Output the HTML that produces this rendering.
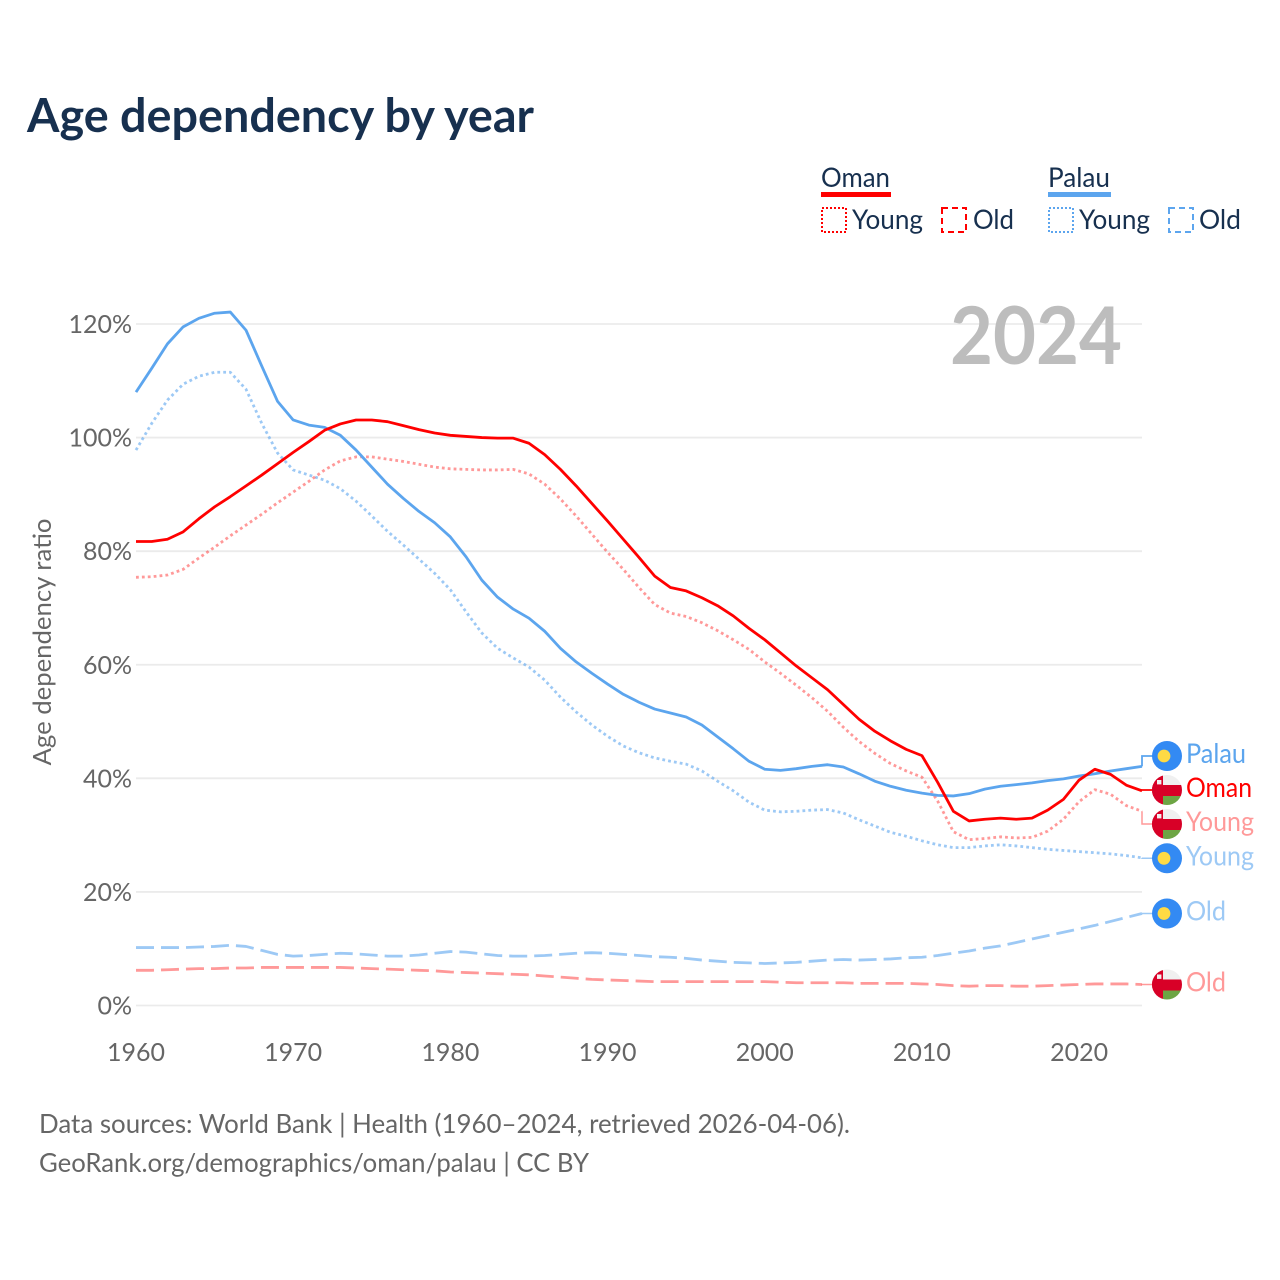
<!DOCTYPE html>
<html lang="en">
<head>
<meta charset="utf-8">
<title>Age dependency by year</title>
<style>
html,body{margin:0;padding:0;background:#fff;}
svg{display:block;}
text{font-family:"Lato","Carlito","Liberation Sans",sans-serif;}
</style>
</head>
<body>
<svg id="chart" xmlns="http://www.w3.org/2000/svg" width="1280" height="1280" viewBox="0 0 1280 1280">
<defs>
<clipPath id="clip-flag"><circle cx="15" cy="15" r="15"/></clipPath>
<g id="flag-palau"><circle cx="15" cy="15" r="15" fill="#338af3"/><circle cx="12" cy="15" r="6.4" fill="#ffda44"/></g>
<g id="flag-oman" clip-path="url(#clip-flag)">
<rect x="0" y="0" width="30" height="30" fill="#f0f0f0"/>
<rect x="0" y="10" width="30" height="11" fill="#d80027"/>
<rect x="0" y="0" width="11" height="30" fill="#d80027"/>
<rect x="11" y="21" width="19" height="9" fill="#6da544"/>
<rect x="5" y="5" width="4.4" height="4.4" fill="#f0f0f0"/>
</g>
</defs>
<text x="27" y="132" font-size="47" font-weight="700" fill="#17304f" textLength="507" lengthAdjust="spacingAndGlyphs">Age dependency by year</text>

<g font-size="27" fill="#17304f">
<text x="821" y="187" textLength="69" lengthAdjust="spacingAndGlyphs">Oman</text>
<rect x="821" y="192" width="70" height="5" fill="#ff0000"/>
<rect x="822" y="208" width="24" height="24" fill="none" stroke="#ff0000" stroke-width="2" stroke-dasharray="2 2"/>
<text x="852" y="229" textLength="71" lengthAdjust="spacingAndGlyphs">Young</text>
<rect x="942" y="208" width="24" height="24" fill="none" stroke="#ff0000" stroke-width="2" stroke-dasharray="6 4"/>
<text x="973" y="229" textLength="41" lengthAdjust="spacingAndGlyphs">Old</text>
<text x="1048" y="187" textLength="62" lengthAdjust="spacingAndGlyphs">Palau</text>
<rect x="1048" y="192" width="63" height="5" fill="#5ca5ee"/>
<rect x="1049" y="208" width="24" height="24" fill="none" stroke="#5ca5ee" stroke-width="2" stroke-dasharray="2 2"/>
<text x="1079" y="229" textLength="71" lengthAdjust="spacingAndGlyphs">Young</text>
<rect x="1169" y="208" width="24" height="24" fill="none" stroke="#5ca5ee" stroke-width="2" stroke-dasharray="6 4"/>
<text x="1199" y="229" textLength="42" lengthAdjust="spacingAndGlyphs">Old</text>
</g>

<g id="grid-layer"></g>
<text x="1122" y="364" text-anchor="end" font-size="80" font-weight="700" fill="#bdbdbd" textLength="172" lengthAdjust="spacingAndGlyphs">2024</text>
<g id="y-tick-layer"></g>
<g id="x-tick-layer"></g>
<text transform="translate(51,642) rotate(-90)" text-anchor="middle" font-size="25" fill="#666" textLength="247" lengthAdjust="spacingAndGlyphs">Age dependency ratio</text>
<g id="series-layer"></g>
<g id="label-layer"></g>

<g font-size="26" fill="#666">
<text x="39" y="1133" textLength="811" lengthAdjust="spacingAndGlyphs">Data sources: World Bank | Health (1960–2024, retrieved 2026-04-06).</text>
<text x="39" y="1172" textLength="550" lengthAdjust="spacingAndGlyphs">GeoRank.org/demographics/oman/palau | CC BY</text>
</g>
</svg>
<script>
const years = [1960,1961,1962,1963,1964,1965,1966,1967,1968,1969,1970,1971,1972,1973,1974,1975,1976,1977,1978,1979,1980,1981,1982,1983,1984,1985,1986,1987,1988,1989,1990,1991,1992,1993,1994,1995,1996,1997,1998,1999,2000,2001,2002,2003,2004,2005,2006,2007,2008,2009,2010,2011,2012,2013,2014,2015,2016,2017,2018,2019,2020,2021,2022,2023,2024];
const omanTotal = [81.7,81.7,82.1,83.4,85.7,87.8,89.6,91.5,93.4,95.4,97.4,99.3,101.3,102.4,103.1,103.1,102.8,102.1,101.4,100.8,100.4,100.2,100,99.9,99.9,99,97,94.4,91.5,88.4,85.3,82.1,78.9,75.6,73.6,73,71.8,70.4,68.6,66.4,64.4,62.1,59.8,57.7,55.6,53,50.4,48.3,46.6,45.1,44,39.3,34.2,32.5,32.8,33,32.8,33,34.4,36.3,39.7,41.6,40.7,38.8,37.8];
const omanYoung = [75.4,75.5,75.8,76.8,78.8,80.7,82.7,84.6,86.5,88.5,90.4,92.3,94.3,95.9,96.6,96.6,96.2,95.8,95.3,94.8,94.5,94.4,94.3,94.3,94.4,93.6,91.8,89.2,86.2,83,79.8,76.8,73.6,70.6,69.1,68.5,67.4,66,64.4,62.7,60.5,58.5,56.4,54.2,51.8,49,46.5,44.4,42.6,41.3,40.2,36,30.6,29.2,29.4,29.7,29.5,29.6,30.7,32.8,35.9,38,37.2,35.2,34.2];
const omanOld = [6.2,6.2,6.3,6.4,6.5,6.5,6.6,6.6,6.7,6.7,6.7,6.7,6.7,6.7,6.6,6.5,6.4,6.3,6.2,6.1,5.9,5.8,5.7,5.6,5.5,5.4,5.2,5,4.8,4.6,4.5,4.4,4.3,4.2,4.2,4.2,4.2,4.2,4.2,4.2,4.2,4.1,4,4,4,4,3.9,3.9,3.9,3.9,3.8,3.7,3.5,3.4,3.5,3.5,3.4,3.4,3.5,3.6,3.7,3.8,3.8,3.8,3.7];
const palauTotal = [108,112.2,116.5,119.5,121,121.9,122.1,118.9,112.6,106.4,103.1,102.2,101.8,100.4,97.8,94.8,91.8,89.3,87,85,82.5,79,74.9,71.9,69.8,68.2,65.9,62.9,60.5,58.5,56.6,54.8,53.4,52.2,51.5,50.8,49.4,47.3,45.2,43,41.6,41.4,41.7,42.1,42.4,42,40.8,39.5,38.6,37.9,37.4,37,36.9,37.3,38.1,38.6,38.9,39.2,39.6,39.9,40.4,40.8,41.3,41.7,42.1];
const palauYoung = [97.8,102.5,106.6,109.4,110.8,111.5,111.5,108.5,102.5,97.3,94.3,93.4,92.5,91,88.8,86.2,83.5,81.1,78.6,76.1,73.2,69.3,65.6,62.9,61.2,59.6,57.3,54.3,51.7,49.4,47.4,45.7,44.5,43.6,43,42.5,41.3,39.5,37.8,35.8,34.4,34.1,34.2,34.4,34.5,33.9,32.7,31.6,30.5,29.8,29,28.3,27.8,27.8,28.1,28.3,28.1,27.8,27.5,27.3,27.1,26.9,26.7,26.4,26];
const palauOld = [10.2,10.2,10.2,10.2,10.3,10.4,10.6,10.4,9.7,9,8.7,8.8,9,9.2,9.1,8.9,8.7,8.7,8.9,9.2,9.5,9.4,9.1,8.8,8.7,8.7,8.8,9,9.2,9.3,9.2,9,8.8,8.6,8.5,8.3,8,7.8,7.6,7.5,7.4,7.5,7.6,7.8,8,8.1,8,8.1,8.2,8.4,8.5,8.8,9.2,9.6,10.1,10.5,11.1,11.7,12.3,12.9,13.5,14.1,14.8,15.5,16.2];
const yTicks = [0,20,40,60,80,100,120];
const xTicks = [1960,1970,1980,1990,2000,2010,2020];
const endLabels = ["Palau","Oman","Young","Young","Old","Old"];

const NS = 'http://www.w3.org/2000/svg';
function xScale(year){ return 136 + (year - 1960) * (1142 - 136) / 64; }
function yScale(v){ return 1005.5 - v * (1005.5 - 324) / 120; }
function make(tag, attrs, parent){
  const el = document.createElementNS(NS, tag);
  for (const k in attrs) el.setAttribute(k, attrs[k]);
  parent.appendChild(el);
  return el;
}
const gridLayer = document.getElementById('grid-layer');
const yTickLayer = document.getElementById('y-tick-layer');
const xTickLayer = document.getElementById('x-tick-layer');
const seriesLayer = document.getElementById('series-layer');
const labelLayer = document.getElementById('label-layer');

yTicks.forEach(function(t){
  const line = make('line', {x1:136, x2:1142, y1:yScale(t), y2:yScale(t), stroke:'#ebebeb', 'stroke-width':1.8}, gridLayer);
  
  
  const label = make('text', {x:132, y:yScale(t)+9, 'text-anchor':'end', 'font-size':25, fill:'#666'}, yTickLayer);
  
  
  label.textContent = t + '%';
});
xTicks.forEach(function(t){
  const label = make('text', {x:xScale(t), y:1061, 'text-anchor':'middle', 'font-size':25, fill:'#666'}, xTickLayer);
  
  
  label.textContent = t;
});

function linePath(values){
  return values.map(function(v, i){
    return (i ? 'L' : 'M') + xScale(years[i]).toFixed(2) + ' ' + yScale(v).toFixed(2);
  }).join('');
}
function drawSeries(values, color, opacity, dash, name){
  const p = make('path', {d:linePath(values), fill:'none', stroke:color, 'stroke-width':2.8, 'stroke-opacity':opacity, 'stroke-linejoin':'round'}, seriesLayer);
  if (dash) p.setAttribute('stroke-dasharray', dash);
  
  
}
drawSeries(palauOld, '#5ca5ee', 0.6, '18 7', 'line-palau-old');
drawSeries(omanOld, '#ff0000', 0.4, '18 7', 'line-oman-old');
drawSeries(palauYoung, '#5ca5ee', 0.6, '2.8 3.1', 'line-palau-young');
drawSeries(omanYoung, '#ff0000', 0.4, '2.8 3.1', 'line-oman-young');
drawSeries(palauTotal, '#5ca5ee', 1, '', 'line-palau-total');
drawSeries(omanTotal, '#ff0000', 1, '', 'line-oman-total');

function drawEnd(index, value, iconY, flag, color, opacity, labelWidth, name){
  const endY = yScale(value);
  const leader = make('path', {d:'M1142 '+endY.toFixed(2)+'V'+iconY+'H1153', fill:'none', stroke:color, 'stroke-width':opacity < 1 ? 1.5 : 1.8, 'stroke-opacity':opacity < 1 ? opacity : 1}, labelLayer);
  
  
  const flagUse = make('use', {href:'#flag-' + flag, x:1152, y:iconY-15}, labelLayer);
  
  
  const label = make('text', {x:1186, y:iconY+7, 'font-size':27, fill:color, 'fill-opacity':opacity, textLength:labelWidth, lengthAdjust:'spacingAndGlyphs'}, labelLayer);
  
  
  label.textContent = endLabels[index];
}
const lastPalauTotal = palauTotal[palauTotal.length-1];
const lastOmanTotal = omanTotal[omanTotal.length-1];
const lastOmanYoung = omanYoung[omanYoung.length-1];
const lastPalauYoung = palauYoung[palauYoung.length-1];
const lastPalauOld = palauOld[palauOld.length-1];
const lastOmanOld = omanOld[omanOld.length-1];
drawEnd(0, lastPalauTotal, 756, 'palau', '#5ca5ee', 1, 60, 'end-palau-total');
drawEnd(1, lastOmanTotal, 790, 'oman', '#ff0000', 1, 66, 'end-oman-total');
drawEnd(2, lastOmanYoung, 824, 'oman', '#ff0000', 0.4, 68, 'end-oman-young');
drawEnd(3, lastPalauYoung, 858.3, 'palau', '#5ca5ee', 0.6, 68, 'end-palau-young');
drawEnd(4, lastPalauOld, 913.5, 'palau', '#5ca5ee', 0.6, 40, 'end-palau-old');
drawEnd(5, lastOmanOld, 984.5, 'oman', '#ff0000', 0.4, 40, 'end-oman-old');
</script>
</body>
</html>
